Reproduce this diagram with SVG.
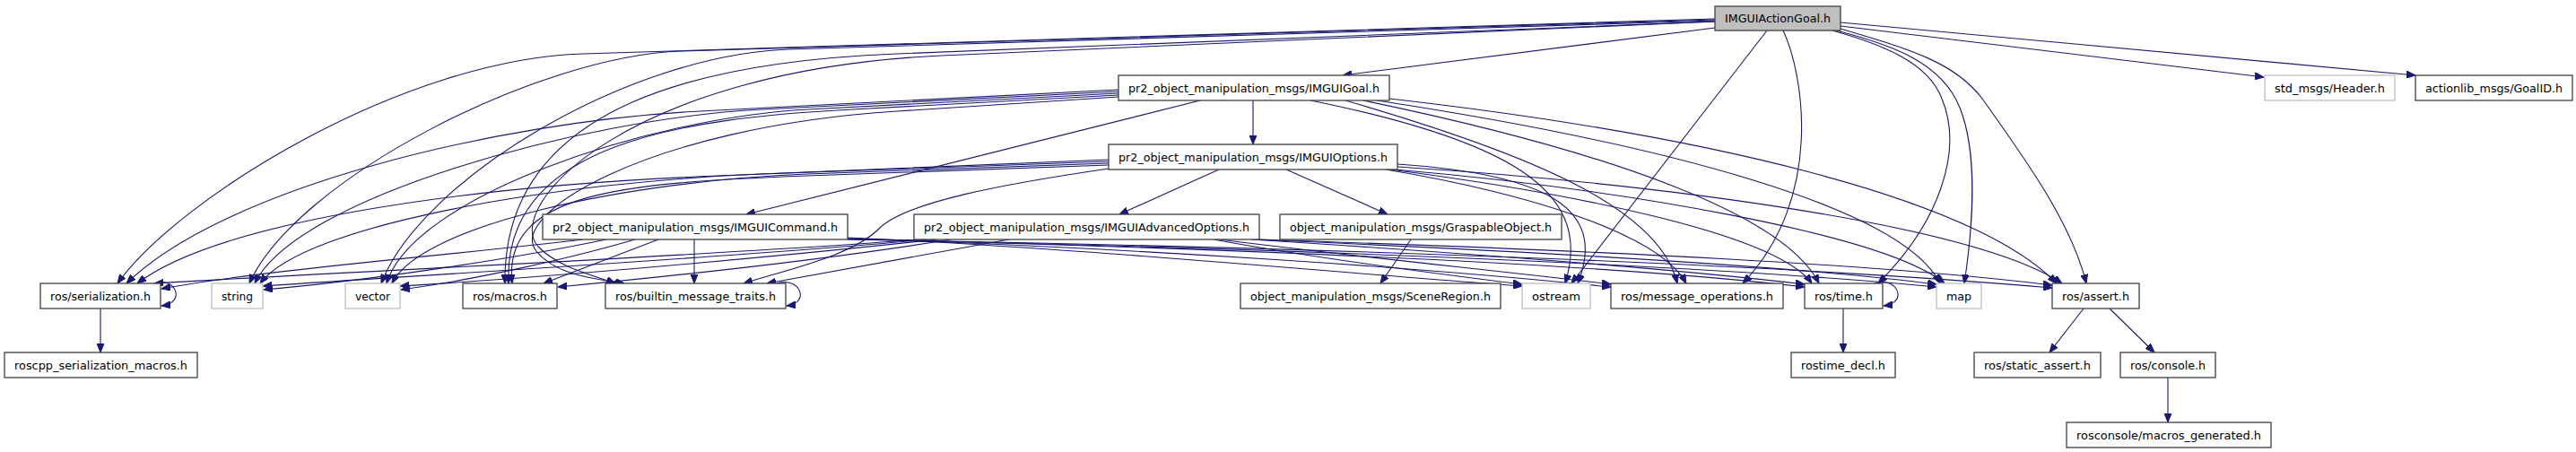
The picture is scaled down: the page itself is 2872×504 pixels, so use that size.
<svg xmlns="http://www.w3.org/2000/svg" width="2872" height="504" viewBox="0 0 2872 504">
<defs>
<marker id="ah" markerWidth="10" markerHeight="8" refX="10" refY="4" orient="auto" markerUnits="userSpaceOnUse"><path d="M0,0 L10,4 L0,8 z" fill="#191970" stroke="#191970" stroke-width="1"/></marker>
</defs>
<style>
.n rect{fill:#ffffff;stroke:#404040;stroke-width:1.3}
.n.u rect{stroke:#bfbfbf}
.n.r rect{fill:#bfbfbf}
.n text{font-family:"DejaVu Sans","Liberation Sans",sans-serif;font-size:12.5px;fill:#000;text-anchor:middle}
#edges path{fill:none;stroke:#191970;stroke-width:1.1;marker-end:url(#ah)}
</style>
<rect x="0" y="0" width="2872" height="504" fill="#ffffff"/>
<g id="edges">
<path d="M1912,31 L1497,84"/>
<path d="M2052,29 L2524,86"/>
<path d="M2052,25 L2693,84"/>
<path d="M1970,34 L1752,316"/>
<path d="M1988,34 C2010,80 2035,220 1943,316"/>
<path d="M2043,34 C2100,50 2150,70 2165,110 C2190,170 2160,250 2094,316"/>
<path d="M2047,34 C2110,50 2165,70 2185,120 C2205,170 2200,250 2190,316"/>
<path d="M2052,32 C2130,55 2180,70 2210,110 C2260,180 2310,250 2326,316"/>
<path d="M1912,21 L650,60 C450,66 200,220 131,316"/>
<path d="M1912,22 L760,57 C600,62 330,200 278,316"/>
<path d="M1912,23 L880,55 C700,61 470,200 425,316"/>
<path d="M1912,24 L1000,60 C800,68 560,110 563,316"/>
<path d="M1912,24 L1050,62 C700,78 560,230 600,275 C625,300 660,306 686,316"/>
<path d="M1397,112 L1397,161"/>
<path d="M1338,112 L832,239"/>
<path d="M1247,100 L780,124 C550,136 250,210 141,316"/>
<path d="M1247,102 L850,122 C650,132 330,220 284,316"/>
<path d="M1247,104 L900,122 C720,132 460,220 431,316"/>
<path d="M1247,106 L950,122 C760,132 560,160 567,316"/>
<path d="M1247,108 L1000,124 C720,142 565,240 598,280 C620,307 660,310 696,316"/>
<path d="M1461,112 C1700,160 1775,220 1745,316"/>
<path d="M1500,112 C1700,170 1850,230 1870,316"/>
<path d="M1520,112 C1800,170 1990,240 2028,316"/>
<path d="M1535,112 C1850,160 2120,230 2163,316"/>
<path d="M1549,110 C1900,150 2200,220 2293,316"/>
<path d="M1359,189 L1248,239"/>
<path d="M1434,189 L1547,239"/>
<path d="M1236,178 L800,196 C500,208 240,250 153,316"/>
<path d="M1236,180 L850,194 C620,203 340,250 290,316"/>
<path d="M1236,182 L900,194 C700,202 470,250 437,316"/>
<path d="M1236,184 L900,196 C690,204 560,215 571,316"/>
<path d="M1236,188 C1120,205 1010,225 980,255 C950,285 880,300 829,316"/>
<path d="M1558,183 C1740,195 1790,240 1759,316"/>
<path d="M1545,189 C1700,215 1850,260 1880,316"/>
<path d="M1550,189 C1750,215 1980,260 2020,316"/>
<path d="M1555,189 C1800,210 2100,260 2168,316"/>
<path d="M1558,186 C1850,205 2200,250 2299,316"/>
<path d="M774,267 L774,316"/>
<path d="M734,267 L606,316"/>
<path d="M708,267 C640,287 530,312 447,323"/>
<path d="M676,267 C580,287 420,312 294,323"/>
<path d="M650,267 C500,285 300,300 180,322"/>
<path d="M945,265 C1200,276 1500,305 1697,319"/>
<path d="M945,266 C1300,278 1600,300 1796,320"/>
<path d="M945,266 C1400,278 1800,295 2012,320"/>
<path d="M945,267 C1400,276 1900,295 2159,320"/>
<path d="M945,267 C1500,276 2000,296 2288,321"/>
<path d="M1125,267 L855,316"/>
<path d="M1060,267 C950,285 780,305 622,320"/>
<path d="M1045,267 C850,288 600,310 446,319"/>
<path d="M1035,267 C820,287 450,308 293,319"/>
<path d="M1025,267 C800,285 400,302 172,316"/>
<path d="M1353,267 C1450,285 1600,305 1697,317"/>
<path d="M1360,267 C1500,285 1700,305 1796,317"/>
<path d="M1395,267 C1600,280 1850,298 2012,317"/>
<path d="M1400,267 C1700,280 2000,296 2159,317"/>
<path d="M1404,267 C1800,280 2100,295 2288,318"/>
<path d="M172,316 C196,308 208,338 180,341"/>
<path d="M866,316 C892,308 904,338 877,341"/>
<path d="M2090,316 C2116,308 2128,338 2100,341"/>
<path d="M112,344 L112,393"/>
<path d="M2055,344 L2055,393"/>
<path d="M2323,344 L2285,393"/>
<path d="M2352,344 L2402,393"/>
<path d="M2417,421 L2417,471"/>
<path d="M1573,267 L1539,316"/>
</g>
<g id="n_AG" class="n r"><rect x="1912" y="7" width="140" height="27"/><text x="1982" y="25" textLength="118" lengthAdjust="spacingAndGlyphs">IMGUIActionGoal.h</text></g>
<g id="n_G" class="n"><rect x="1247" y="84" width="302" height="28"/><text x="1398" y="102.5" textLength="280" lengthAdjust="spacingAndGlyphs">pr2_object_manipulation_msgs/IMGUIGoal.h</text></g>
<g id="n_H" class="n u"><rect x="2525" y="84" width="145" height="28"/><text x="2597.5" y="102.5" textLength="123" lengthAdjust="spacingAndGlyphs">std_msgs/Header.h</text></g>
<g id="n_GID" class="n"><rect x="2693" y="84" width="175" height="28"/><text x="2780.5" y="102.5" textLength="153" lengthAdjust="spacingAndGlyphs">actionlib_msgs/GoalID.h</text></g>
<g id="n_O" class="n"><rect x="1236" y="161" width="322" height="28"/><text x="1397" y="179.5" textLength="300" lengthAdjust="spacingAndGlyphs">pr2_object_manipulation_msgs/IMGUIOptions.h</text></g>
<g id="n_C" class="n"><rect x="605" y="239" width="340" height="28"/><text x="775" y="257.5" textLength="318" lengthAdjust="spacingAndGlyphs">pr2_object_manipulation_msgs/IMGUICommand.h</text></g>
<g id="n_A" class="n"><rect x="1019" y="239" width="385" height="28"/><text x="1211.5" y="257.5" textLength="363" lengthAdjust="spacingAndGlyphs">pr2_object_manipulation_msgs/IMGUIAdvancedOptions.h</text></g>
<g id="n_GO" class="n"><rect x="1427" y="239" width="314" height="28"/><text x="1584" y="257.5" textLength="292" lengthAdjust="spacingAndGlyphs">object_manipulation_msgs/GraspableObject.h</text></g>
<g id="n_SER" class="n"><rect x="45" y="316" width="134" height="28"/><text x="112" y="334.5" textLength="112" lengthAdjust="spacingAndGlyphs">ros/serialization.h</text></g>
<g id="n_STR" class="n u"><rect x="236" y="316" width="57" height="28"/><text x="264.5" y="334.5" textLength="35" lengthAdjust="spacingAndGlyphs">string</text></g>
<g id="n_VEC" class="n u"><rect x="385" y="316" width="61" height="28"/><text x="415.5" y="334.5" textLength="39" lengthAdjust="spacingAndGlyphs">vector</text></g>
<g id="n_MAC" class="n"><rect x="516" y="316" width="105" height="28"/><text x="568.5" y="334.5" textLength="83" lengthAdjust="spacingAndGlyphs">ros/macros.h</text></g>
<g id="n_BMT" class="n"><rect x="675" y="316" width="201" height="28"/><text x="775.5" y="334.5" textLength="179" lengthAdjust="spacingAndGlyphs">ros/builtin_message_traits.h</text></g>
<g id="n_SR" class="n"><rect x="1383" y="316" width="290" height="28"/><text x="1528" y="334.5" textLength="268" lengthAdjust="spacingAndGlyphs">object_manipulation_msgs/SceneRegion.h</text></g>
<g id="n_OST" class="n u"><rect x="1697" y="316" width="76" height="28"/><text x="1735" y="334.5" textLength="54" lengthAdjust="spacingAndGlyphs">ostream</text></g>
<g id="n_MO" class="n"><rect x="1796" y="316" width="192" height="28"/><text x="1892" y="334.5" textLength="170" lengthAdjust="spacingAndGlyphs">ros/message_operations.h</text></g>
<g id="n_TIME" class="n"><rect x="2012" y="316" width="87" height="28"/><text x="2055.5" y="334.5" textLength="65" lengthAdjust="spacingAndGlyphs">ros/time.h</text></g>
<g id="n_MAP" class="n u"><rect x="2159" y="316" width="50" height="28"/><text x="2184" y="334.5" textLength="28" lengthAdjust="spacingAndGlyphs">map</text></g>
<g id="n_AS" class="n"><rect x="2288" y="316" width="97" height="28"/><text x="2336.5" y="334.5" textLength="75" lengthAdjust="spacingAndGlyphs">ros/assert.h</text></g>
<g id="n_RSM" class="n"><rect x="5" y="393" width="215" height="28"/><text x="112.5" y="411.5" textLength="193" lengthAdjust="spacingAndGlyphs">roscpp_serialization_macros.h</text></g>
<g id="n_RTD" class="n"><rect x="1997" y="393" width="116" height="28"/><text x="2055" y="411.5" textLength="94" lengthAdjust="spacingAndGlyphs">rostime_decl.h</text></g>
<g id="n_SA" class="n"><rect x="2201" y="393" width="141" height="28"/><text x="2271.5" y="411.5" textLength="119" lengthAdjust="spacingAndGlyphs">ros/static_assert.h</text></g>
<g id="n_CON" class="n"><rect x="2364" y="393" width="106" height="28"/><text x="2417" y="411.5" textLength="84" lengthAdjust="spacingAndGlyphs">ros/console.h</text></g>
<g id="n_RMG" class="n"><rect x="2304" y="471" width="228" height="28"/><text x="2418" y="489.5" textLength="206" lengthAdjust="spacingAndGlyphs">rosconsole/macros_generated.h</text></g>
</svg>
